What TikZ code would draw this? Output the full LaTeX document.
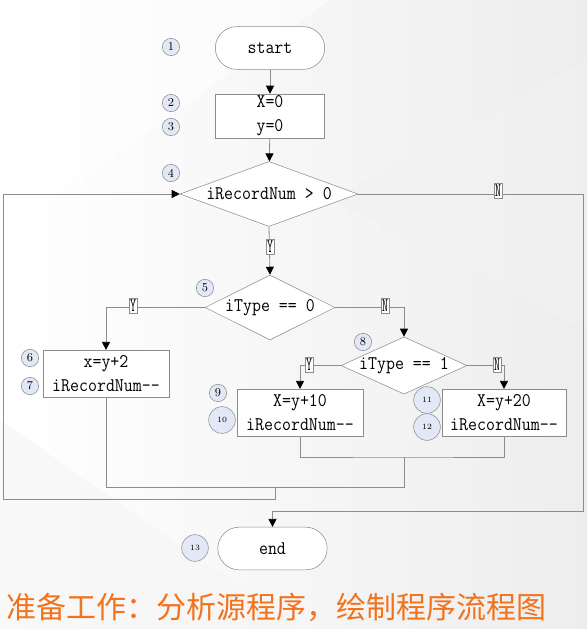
\documentclass[tikz,border=0pt]{standalone}
\usepackage{fontspec}
\newfontfamily\cjk{Noto Sans CJK SC}
\newfontfamily\flowmono[FakeStretch=0.9]{Latin Modern Mono}
\newfontfamily\ynmono[FakeStretch=0.6]{Latin Modern Mono}
\usetikzlibrary{shapes.geometric,arrows.meta}
\definecolor{linegray}{RGB}{140,140,140}
\definecolor{numfill}{RGB}{226,232,245}
\definecolor{titleorange}{RGB}{243,114,28}
\tikzset{
  flow/.style={draw=linegray,line width=0.6pt},
  arr/.style={flow,-{Triangle[width=6pt,length=6pt,color=black]}},
  term/.style={draw=linegray,fill=white,rounded corners=16pt,minimum width=82pt,minimum height=32pt,font=\flowmono\fontsize{14.5}{17}\selectfont},
  proc/.style={draw=linegray,fill=white,minimum width=94.5pt,minimum height=35pt,align=center,inner sep=0pt,font=\flowmono\fontsize{14.5}{18}\selectfont},
  dec/.style={diamond,draw=linegray,fill=white,inner sep=0pt,font=\flowmono\fontsize{14.5}{17}\selectfont},
  yn/.style={draw=linegray,fill=white,inner xsep=0.6pt,inner ysep=1.2pt,font=\ynmono\fontsize{14.5}{15}\selectfont},
  num/.style={circle,draw=linegray,fill=numfill,minimum size=13pt,inner sep=0pt,font=\fontsize{9}{9}\selectfont},
  bignum/.style={circle,draw=linegray,fill=numfill,minimum size=20pt,inner sep=0pt,font=\fontsize{6}{6}\selectfont}
}
\begin{document}
\begin{tikzpicture}[x=0.75pt,y=-0.75pt]
\path[use as bounding box] (0,0) rectangle (587,629);
\shade[left color=white,right color=gray!14] (0,0) rectangle (587,629);
\fill[white,opacity=0.5] (0,0) -- (330,0) -- (0,240) -- cycle;
\fill[gray!10,opacity=0.5] (587,60) -- (330,200) -- (587,330) -- cycle;
\fill[gray!8,opacity=0.6] (0,420) -- (300,629) -- (0,629) -- cycle;

% nodes
\node[term] (start) at (270,48) {start};
\node[proc,minimum width=82pt,minimum height=33pt] (b23) at (270,116) {X=0\\y=0};
\node[dec,minimum width=133.5pt,minimum height=48.75pt,shape aspect=2.74] (d4) at (269,194) {iRecordNum > 0};
\node[dec,minimum width=97.5pt,minimum height=48.75pt,shape aspect=2] (d5) at (270,307.5) {iType == 0};
\node[proc] (b6) at (106,373.5) {x=y+2\\iRecordNum--};
\node[dec,minimum width=94.5pt,minimum height=42.75pt,shape aspect=2.2] (d8) at (404,365.5) {iType == 1};
\node[proc] (b9) at (300,412.5) {X=y+10\\iRecordNum--};
\node[proc,minimum width=93pt] (b11) at (504,412.5) {X=y+20\\iRecordNum--};
\node[term] (end) at (272.5,548.5) {end};

% helper coordinates
\coordinate (m1) at (404,457);
\coordinate (m2) at (404,487.5);
\coordinate (m3) at (275,487.5);
\coordinate (l1) at (3,499.5);
\coordinate (r1) at (583,511);

% connectors
\draw[arr] (start) -- (b23);
\draw[arr] (b23) -- (d4);
\draw[arr] (d4.south) -- (d5.north);
\draw[arr] (d5.west) -| (b6.north);
\draw[arr] (d5.east) -| (d8.north);
\draw[arr] (d8.west) -| (b9.north);
\draw[arr] (d8.east) -| (b11.north);
\draw[flow] (b9.south) |- (m1) -| (b11.south);
\draw[flow] (m1) -- (m2) -| (b6.south);
\draw[arr] (m3) |- (l1) |- (d4.west);
\draw[arr] (d4.east) -| (r1) -| (end.north);

% Y/N labels
\node[yn] (y4) at (270,247) {Y};
\node[yn] (n4) at (498,191) {N};
\node[yn] (y5) at (133,306) {Y};
\node[yn] (n5) at (385,306) {N};
\node[yn] (y8) at (309,365) {Y};
\node[yn] (n8) at (497,365) {N};

% step numbers
\node[num] (c1) at (171,47) {1};
\node[num] (c2) at (171,103) {2};
\node[num] (c3) at (171,127) {3};
\node[num] (c4) at (171,173) {4};
\node[num] (c5) at (205,288) {5};
\node[num] (c6) at (30,358) {6};
\node[num] (c7) at (30,386) {7};
\node[num] (c8) at (363,342) {8};
\node[num] (c9) at (218,393) {9};
\node[bignum] (c10) at (222,420) {10};
\node[bignum] (c11) at (427,400) {11};
\node[bignum] (c12) at (427,427) {12};
\node[bignum] (c13) at (195,548) {13};

% title
\node[anchor=west,inner sep=0pt,text=titleorange,font=\cjk\fontsize{22.5}{24}\selectfont] (title) at (6,607) {准备工作：分析源程序，绘制程序流程图};
\end{tikzpicture}
\end{document}
